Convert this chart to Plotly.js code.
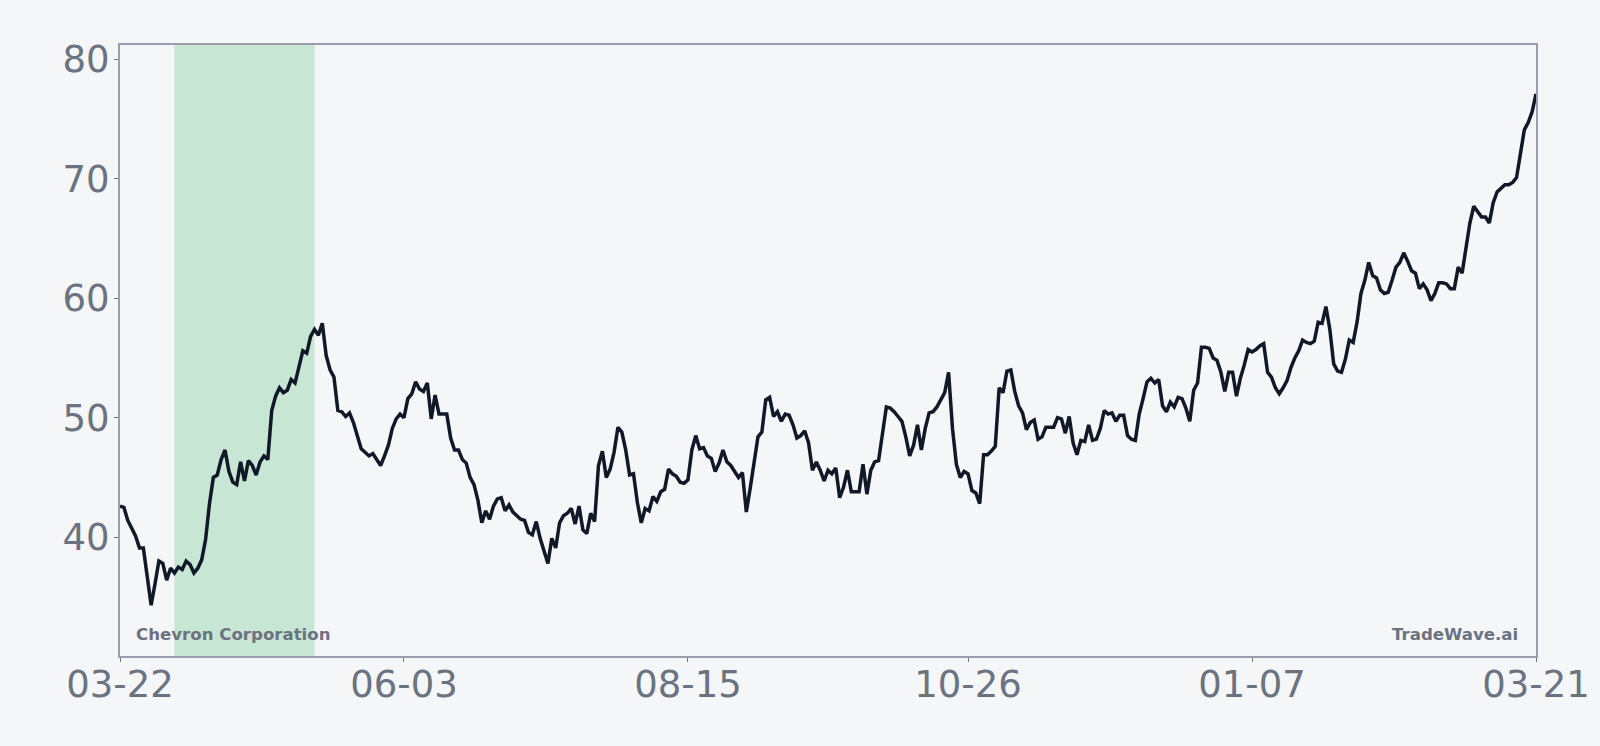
<!DOCTYPE html>
<html>
<head>
<meta charset="utf-8">
<script src="https://cdn.plot.ly/plotly-3.0.1.min.js"></script>
<style>
  html, body { margin: 0; padding: 0; background: #f5f6f8; }
  #chart { width: 1600px; height: 746px; }
</style>
</head>
<body>
<div id="chart"></div>
<script>
var startDate = '2024-03-22';

var closePrices = [
  42.6, 42.5, 41.4, 40.7, 40.1, 39.1, 39.1, 36.7, 34.3, 36.1,
  38.0, 37.8, 36.4, 37.4, 37.0, 37.5, 37.3, 38.0, 37.7, 37.0,
  37.4, 38.1, 39.8, 42.8, 45.0, 45.2, 46.5, 47.3, 45.5, 44.6,
  44.4, 46.3, 44.7, 46.4, 46.0, 45.2, 46.3, 46.8, 46.5, 50.6,
  51.8, 52.5, 52.1, 52.3, 53.2, 52.9, 54.2, 55.6, 55.4, 56.8,
  57.4, 56.9, 57.9, 55.2, 54.0, 53.4, 50.6, 50.5, 50.1, 50.4,
  49.6, 48.6, 47.4, 47.1, 46.8, 47.0, 46.5, 46.0, 46.8, 47.7,
  49.1, 49.9, 50.3, 50.0, 51.6, 52.0, 53.0, 52.4, 52.2, 52.9,
  49.9, 51.9, 50.3, 50.3, 50.3, 48.3, 47.3, 47.3, 46.5, 46.2,
  45.0, 44.4, 43.1, 41.2, 42.2, 41.5, 42.6, 43.2, 43.3, 42.2,
  42.7, 42.1, 41.8, 41.5, 41.4, 40.4, 40.2, 41.3, 39.9, 38.8,
  37.8, 39.9, 39.1, 41.2, 41.8, 42.0, 42.4, 41.1, 42.6, 40.6,
  40.3, 42.0, 41.3, 46.0, 47.2, 45.0, 45.7, 47.1, 49.2, 48.8,
  47.3, 45.2, 45.3, 42.9, 41.2, 42.4, 42.2, 43.4, 43.0, 43.8,
  44.0, 45.7, 45.3, 45.1, 44.6, 44.5, 44.8, 47.3, 48.5, 47.4,
  47.5, 46.8, 46.6, 45.5, 46.2, 47.3, 46.3, 46.0, 45.5, 45.0,
  45.4, 42.1, 44.1, 46.4, 48.4, 48.8, 51.5, 51.7, 50.1, 50.5,
  49.7, 50.3, 50.2, 49.4, 48.3, 48.5, 48.9, 47.9, 45.6, 46.3,
  45.6, 44.7, 45.6, 45.3, 45.8, 43.3, 44.2, 45.6, 43.8, 43.8, 43.8,
  46.1, 43.6, 45.6, 46.3, 46.4, 48.5, 50.9, 50.8, 50.5, 50.1,
  49.7, 48.4, 46.8, 47.7, 49.4, 47.3, 49.1, 50.4, 50.5, 50.9,
  51.5, 52.1, 53.8, 49.1, 46.1, 45.0, 45.5, 45.3, 43.9, 43.7,
  42.8, 46.9, 46.9, 47.2, 47.6, 52.5, 52.1, 53.9, 54.0, 52.2,
  51.0, 50.4, 49.0, 49.6, 49.8, 48.2, 48.4, 49.2, 49.2, 49.2,
  50.0, 49.9, 48.7, 50.1, 47.9, 46.9, 48.1, 48.0, 49.4, 48.1,
  48.2, 49.1, 50.6, 50.3, 50.4, 49.7, 50.2, 50.2, 48.5, 48.2,
  48.1, 50.3, 51.6, 53.0, 53.3, 52.9, 53.2, 51.0, 50.5, 51.3,
  50.9, 51.7, 51.6, 50.8, 49.7, 52.3, 52.9, 55.9, 55.9, 55.8,
  55.0, 54.8, 53.8, 52.2, 53.8, 53.8, 51.8, 53.3, 54.4, 55.7,
  55.5, 55.7, 56.0, 56.2, 53.8, 53.4, 52.5, 52.0, 52.5, 53.1,
  54.2, 55.0, 55.6, 56.5, 56.3, 56.2, 56.4, 58.0, 57.9, 59.3,
  57.4, 54.5, 53.9, 53.8, 54.9, 56.5, 56.3, 58.0, 60.4, 61.5,
  63.0, 61.9, 61.7, 60.7, 60.4, 60.5, 61.5, 62.6, 63.0, 63.8,
  63.1, 62.3, 62.1, 60.8, 61.2, 60.7, 59.8, 60.4, 61.3, 61.3,
  61.2, 60.8, 60.8, 62.6, 62.1, 64.0, 66.3, 67.7, 67.3, 66.8,
  66.8, 66.3, 68.0, 68.9, 69.2, 69.5, 69.5, 69.7, 70.1, 72.1,
  74.1, 74.7, 75.6, 77.1
];

var tickDates = ['2024-03-22', '2024-06-03', '2024-08-15', '2024-10-26', '2025-01-07', '2025-03-21'];
var tickLabels = ['03-22', '06-03', '08-15', '10-26', '01-07', '03-21'];
var yTicks = [40, 50, 60, 70, 80];

var bandStart = '2024-04-05';
var bandEnd = '2024-05-11';

var companyName = 'Chevron Corporation';
var brandName = 'TradeWave.ai';

function buildDates(start, n) {
  var parts = start.split('-');
  var t0 = Date.UTC(+parts[0], +parts[1] - 1, +parts[2]);
  var out = [];
  for (var i = 0; i < n; i++) {
    out.push(new Date(t0 + i * 86400000).toISOString().slice(0, 10));
  }
  return out;
}

var dates = buildDates(startDate, closePrices.length);

var textColor = '#6b7280';
var frameColor = '#9a9dae';
var bgColor = '#f5f6f8';

var trace = {
  x: dates,
  y: closePrices,
  type: 'scatter',
  mode: 'lines',
  line: { color: '#111827', width: 3.5 },
  hoverinfo: 'skip',
  showlegend: false
};

var axisBase = {
  showline: true,
  mirror: true,
  linecolor: frameColor,
  linewidth: 2,
  ticks: 'outside',
  ticklen: 4,
  tickwidth: 1,
  tickcolor: textColor,
  showgrid: false,
  zeroline: false,
  tickfont: { family: 'DejaVu Sans', size: 37, color: textColor }
};

var layout = {
  width: 1600,
  height: 746,
  paper_bgcolor: bgColor,
  plot_bgcolor: bgColor,
  margin: { t: 45, r: 64, b: 90, l: 120 },
  xaxis: Object.assign({}, axisBase, {
    type: 'date',
    range: [dates[0], dates[dates.length - 1]],
    tickmode: 'array',
    tickvals: tickDates,
    ticktext: tickLabels,
    ticklabelstandoff: -9
  }),
  yaxis: Object.assign({}, axisBase, {
    range: [30.05, 81.2],
    tickmode: 'array',
    tickvals: yTicks,
    ticklabelstandoff: -3
  }),
  shapes: [{
    type: 'rect',
    xref: 'x',
    yref: 'paper',
    x0: bandStart,
    x1: bandEnd,
    y0: 0,
    y1: 1,
    fillcolor: '#c8e6d4',
    line: { width: 0 },
    layer: 'below'
  }],
  annotations: [
    {
      text: companyName,
      xref: 'paper', yref: 'paper',
      x: 0.0101, y: 0.035,
      xanchor: 'left', yanchor: 'middle',
      showarrow: false,
      font: { family: 'DejaVu Sans', size: 16.6, color: textColor, weight: 'bold' }
    },
    {
      text: brandName,
      xref: 'paper', yref: 'paper',
      x: 0.989, y: 0.035,
      xanchor: 'right', yanchor: 'middle',
      showarrow: false,
      font: { family: 'DejaVu Sans', size: 16.6, color: textColor, weight: 'bold' }
    }
  ]
};

Plotly.newPlot('chart', [trace], layout, { staticPlot: true, displayModeBar: false });
</script>
</body>
</html>
